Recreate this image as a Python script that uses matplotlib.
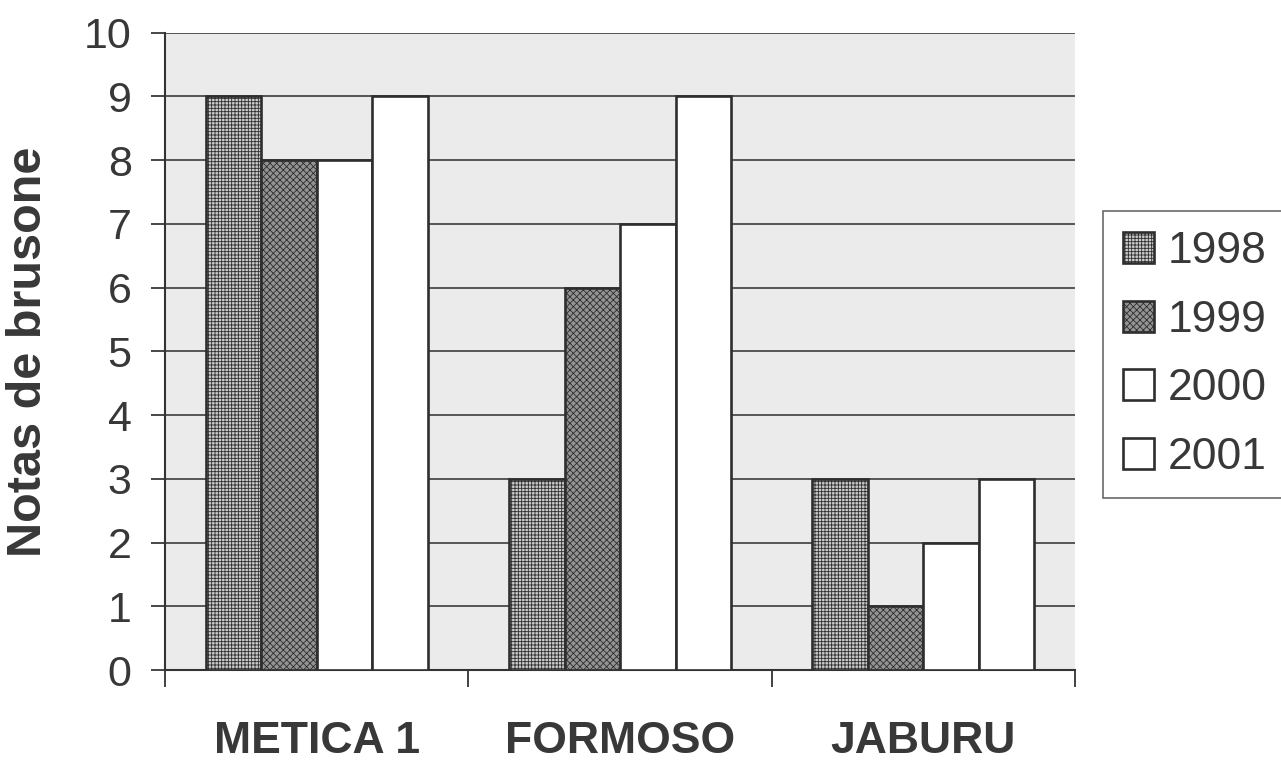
import numpy as np
import matplotlib.pyplot as plt

plt.rcParams['font.family'] = ['Liberation Sans', 'DejaVu Sans']

cultivares = ['METICA 1', 'FORMOSO', 'JABURU']
anos = ['1998', '1999', '2000', '2001']
notas = {
    '1998': [9, 3, 3],
    '1999': [8, 6, 1],
    '2000': [8, 7, 2],
    '2001': [9, 9, 3],
}
cores = {'1998': '#cacaca', '1999': '#939393', '2000': 'white', '2001': 'white'}
texturas = {'1998': '+++++', '1999': 'xxxxx', '2000': None, '2001': None}
cor_textura = {'1998': '#b4b4b4', '1999': '#7a7a7a', '2000': 'black', '2001': 'black'}

fig = plt.figure(figsize=(12.81, 7.66), dpi=100)
ax = fig.add_axes([0.1288, 0.1253, 0.7105, 0.832])
ax.set_facecolor('#ebebeb')

x = np.arange(len(cultivares))
w = 0.183
for i, ano in enumerate(anos):
    pos = x + (i - 1.5) * w
    plt.rcParams['hatch.color'] = cor_textura[ano]
    plt.rcParams['hatch.linewidth'] = 0.6
    ax.bar(pos, notas[ano], width=w, color=cores[ano], edgecolor='#2e2e2e',
           linewidth=1.9, hatch=texturas[ano], label=ano, zorder=3)

ax.set_xlim(-0.5, 2.5)
ax.set_ylim(0, 10)
ax.set_yticks(range(0, 11))
ax.yaxis.grid(True, color='#4a4a4a', linewidth=1.3, zorder=1)
ax.set_axisbelow(True)
ax.tick_params(axis='y', labelsize=31, length=10, width=1.3, pad=14, colors='#383838')

ax.set_xticks([-0.5, 0.5, 1.5, 2.5])
ax.set_xticklabels([])
ax.tick_params(axis='x', which='major', length=12, width=1.3, color='#333333')
ax.set_xticks(x, minor=True)
ax.set_xticklabels(cultivares, minor=True, fontsize=32, fontweight='bold', color='#383838')
ax.tick_params(axis='x', which='minor', length=0, pad=37)

for s in ['top', 'right']:
    ax.spines[s].set_visible(False)
for s in ['left', 'bottom']:
    ax.spines[s].set_color('#333333')
    ax.spines[s].set_linewidth(1.5)

ax.set_ylabel('Notas de brusone', fontsize=35, fontweight='bold', color='#383838', labelpad=24)

leg = ax.legend(loc='center left', bbox_to_anchor=(1.016, 0.495), fontsize=32, frameon=True,
                fancybox=False, edgecolor='#444444', handlelength=0.7, handleheight=0.7,
                handletextpad=0.3, labelspacing=0.62, borderpad=0.45, borderaxespad=0.3)
leg.get_frame().set_linewidth(1.2)
for t in leg.get_texts():
    t.set_color('#383838')

fig.savefig('out.png', dpi=100)
